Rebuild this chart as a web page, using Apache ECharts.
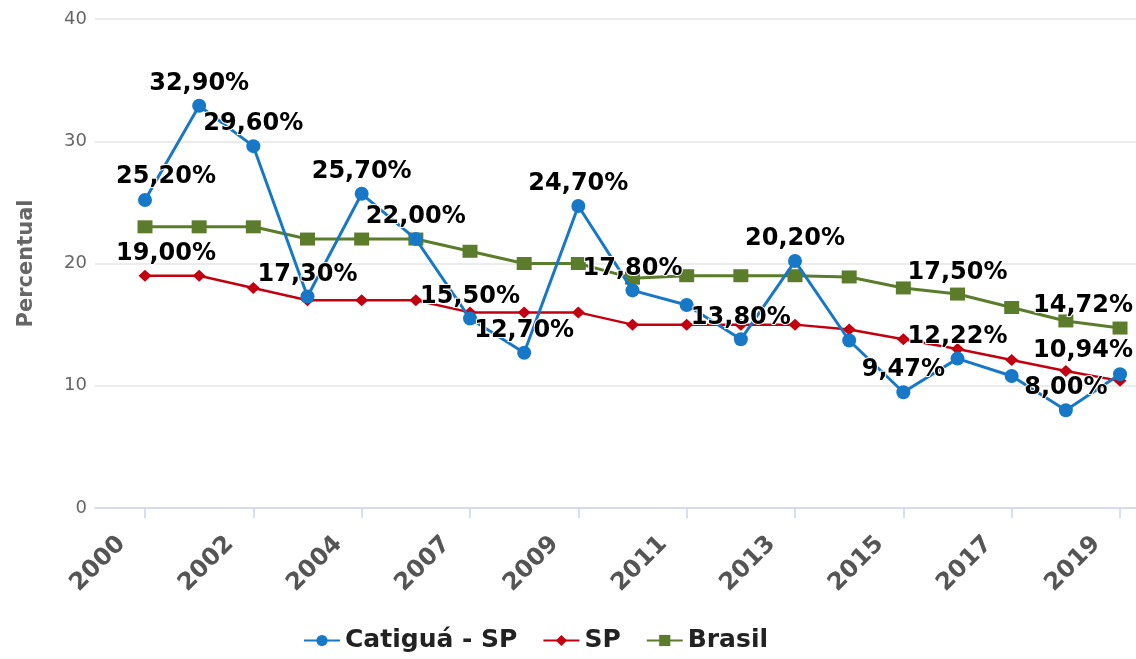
<!DOCTYPE html>
<html>
<head>
<meta charset="utf-8">
<script src="https://cdn.jsdelivr.net/npm/echarts@6/dist/echarts.min.js"></script>
<style>
html,body{margin:0;padding:0;background:#fff;}
#chart{width:1136px;height:659px;}
</style>
</head>
<body>
<div id="chart"></div>
<script>
// ---- data ----
const years = ["2000","2001","2002","2003","2004","2005","2007","2008","2009","2010","2011","2012","2013","2014","2015","2016","2017","2018","2019"];
const tickYears = ["2000","2002","2004","2007","2009","2011","2013","2015","2017","2019"];
const catigua = [25.2, 32.9, 29.6, 17.3, 25.7, 22.0, 15.5, 12.7, 24.7, 17.8, 16.6, 13.8, 20.2, 13.7, 9.47, 12.22, 10.8, 8.0, 10.94];
const sp      = [19.0, 19.0, 18.0, 17.0, 17.0, 17.0, 16.0, 16.0, 16.0, 15.0, 15.0, 15.0, 15.0, 14.6, 13.8, 13.0, 12.1, 11.2, 10.4];
const brasil  = [23.0, 23.0, 23.0, 22.0, 22.0, 22.0, 21.0, 20.0, 20.0, 18.8, 19.0, 19.0, 19.0, 18.9, 18.0, 17.5, 16.4, 15.3, 14.72];
// which points carry a visible value label (as in the reference)
const catiguaLabelled = ["2000","2001","2002","2003","2004","2005","2007","2008","2009","2010","2012","2013","2015","2016","2018","2019"];
const spLabelled = ["2000"];
const brasilLabelled = ["2016","2019"];
const yTicks = [0, 10, 20, 30, 40];

const W = 1136;
const FONT = "DejaVu Sans";

function pts(vals, labelled){
  return vals.map((v,i)=>({value:[i,v], label:{show: labelled.indexOf(years[i])>=0}}));
}
function fmt(p){
  return p.value[1].toFixed(2).replace('.', ',') + '%';
}
const labelStyle = {
  position:'top', distance:3, formatter: fmt,
  fontFamily: FONT, fontWeight:'bold', fontSize:24, color:'#000',
  textBorderColor:'#fff', textBorderWidth:2
};
const tickIdx = tickYears.map(y=>years.indexOf(y));

const chart = echarts.init(document.getElementById('chart'), null, {renderer:'canvas'});
chart.setOption({
  animation:false,
  backgroundColor:'#fff',
  grid:{left:95, right:0, top:19, bottom:151, containLabel:false},
  xAxis:{
    type:'value', min:-0.923, max:18.295,
    splitLine:{show:false},
    axisLine:{show:true, onZero:false, lineStyle:{color:'#ccd6eb', width:1.5}},
    axisTick:{show:true, customValues:tickIdx, length:10, lineStyle:{color:'#ccd6eb', width:1.5}},
    axisLabel:{customValues:tickIdx, rotate:45, margin:9, padding:[0,33,0,0], fontFamily:FONT, fontWeight:'bold', fontSize:24, color:'#555',
      formatter:(v)=>years[Math.round(v)] || ''}
  },
  yAxis:{
    type:'value', min:yTicks[0], max:yTicks[yTicks.length-1], interval:10,
    name:'Percentual', nameLocation:'middle', nameGap:58, nameRotate:90,
    nameTextStyle:{fontFamily:FONT, fontWeight:'bold', fontSize:21, color:'#666'},
    axisLine:{show:false}, axisTick:{show:false},
    axisLabel:{fontFamily:FONT, fontSize:18, color:'#666', margin:8},
    splitLine:{lineStyle:{color:'#e6e6e6', width:1.5}}
  },
  legend:{
    bottom:1, left:298, itemWidth:36, itemHeight:14, itemGap:25,
    data:['Catiguá - SP','SP','Brasil'],
    textStyle:{fontFamily:FONT, fontWeight:'bold', fontSize:25, color:'#222'}
  },
  labelLayout:function(p){
    const r = p.labelRect;
    if (r.x + r.width > W - 1) return {x: W - 1 - r.width, y: r.y, align:'left', verticalAlign:'top'};
    if (r.x < 116) return {x: 116, y: r.y, align:'left', verticalAlign:'top'};
    return {};
  },
  series:[
    {name:'Brasil', type:'line', z:2, data:pts(brasil, brasilLabelled),
      symbol:'rect', symbolSize:[15,13], color:'#5b7d2b',
      lineStyle:{width:3, color:'#5b7d2b'}, itemStyle:{color:'#5b7d2b'},
      label:labelStyle},
    {name:'SP', type:'line', z:3, data:pts(sp, spLabelled),
      symbol:'diamond', symbolSize:[13,12], color:'#c3000f',
      lineStyle:{width:2.5, color:'#c3000f'}, itemStyle:{color:'#c3000f'},
      label:labelStyle},
    {name:'Catiguá - SP', type:'line', z:4, data:pts(catigua, catiguaLabelled),
      symbol:'circle', symbolSize:14, color:'#1878c8',
      lineStyle:{width:3, color:'#1878c8'}, itemStyle:{color:'#1878c8'},
      label:labelStyle}
  ]
});
</script>
</body>
</html>
